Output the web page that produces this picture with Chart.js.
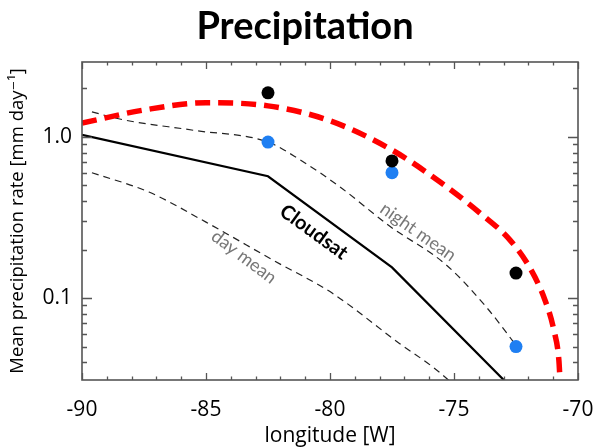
<!DOCTYPE html>
<html lang="en">
<head>
<meta charset="UTF-8">
<title>Precipitation</title>
<script src="https://cdn.jsdelivr.net/npm/chart.js@4"></script>
<style>
  body { margin: 0; background: #fff; }
</style>
</head>
<body>
<canvas id="precipChart" width="596" height="447"></canvas>
<script>
// longitude (deg) / mean precipitation rate (mm/day) for each curve
const fitLon  = [-90, -87.5, -85.0, -82.5, -80.0, -77.5, -75.56, -73.95, -72.74, -71.94, -71.33, -70.97, -70.77, -70.73];
const fitRate = [1.22, 1.47, 1.63, 1.56, 1.26, 0.83, 0.525, 0.337, 0.229, 0.154, 0.097, 0.063, 0.041, 0.032];

const cloudsatLon  = [-90, -82.5, -77.5, -72.5];
const cloudsatRate = [1.03, 0.57, 0.155, 0.026];

const nightLon  = [-89.6, -88.35, -85.5, -82.5, -81.2, -79.6, -77.6, -75.3, -73.7, -72.5];
const nightRate = [1.43, 1.28, 1.10, 0.93, 0.72, 0.49, 0.28, 0.16, 0.088, 0.051];

const dayLon  = [-89.6, -87.3, -85.0, -82.3, -79.9, -77.2, -75.85, -75.0];
const dayRate = [0.60, 0.455, 0.296, 0.172, 0.107, 0.0523, 0.0373, 0.029];

const stationLon   = [-82.5, -77.5, -72.5];
const stationTotal = [1.88, 0.71, 0.143];
const stationNight = [0.93, 0.60, 0.050];

const xTicks = [-90, -85, -80, -75, -70];
const yTickLabels = { 1: '1.0', 0.1: '0.1' };

const FONT = "'Open Sans', 'DejaVu Sans', sans-serif";

function pts(xs, ys) {
  return xs.map((x, i) => ({ x: x, y: ys[i] }));
}

// box frame, inward tick marks, title and curve labels
const decorations = {
  id: 'decorations',
  afterDatasetsDraw(chart) {
    const { ctx, chartArea: a, scales: { x, y } } = chart;
    ctx.save();
    ctx.strokeStyle = '#555';
    ctx.lineWidth = 1.6;
    ctx.strokeRect(a.left, a.top, a.right - a.left, a.bottom - a.top);

    ctx.lineWidth = 1.3;
    ctx.beginPath();
    for (let v = -90; v <= -70; v++) {
      const px = Math.round(x.getPixelForValue(v)) + 0.5;
      const len = v % 5 === 0 ? 7 : 3.5;
      ctx.moveTo(px, a.bottom); ctx.lineTo(px, a.bottom - len);
      ctx.moveTo(px, a.top); ctx.lineTo(px, a.top + len);
    }
    const yVals = [];
    [0.01, 0.1, 1].forEach(d => {
      for (let m = 1; m <= 9; m++) yVals.push({ v: d * m, major: m === 1 });
    });
    yVals.forEach(t => {
      if (t.v < y.min || t.v > y.max) return;
      const py = Math.round(y.getPixelForValue(t.v)) + 0.5;
      const len = t.major ? 10 : 5;
      ctx.moveTo(a.left, py); ctx.lineTo(a.left + len, py);
      ctx.moveTo(a.right, py); ctx.lineTo(a.right - len, py);
    });
    ctx.stroke();
    ctx.restore();
  },
  afterDraw(chart) {
    const { ctx, scales: { x, y } } = chart;
    ctx.save();
    ctx.fillStyle = '#000';
    ctx.textAlign = 'center';
    ctx.textBaseline = 'middle';
    ctx.font = "bold 38px 'Lato', " + FONT;
    ctx.fillText('Precipitation', 305, 27);

    const notes = [
      { text: 'Cloudsat',   lon: -80.65, rate: 0.257, angle: 36, font: "bold 20px 'Lato', " + FONT, color: '#000' },
      { text: 'night mean', lon: -76.45, rate: 0.257, angle: 35, font: "18px 'Lato', " + FONT, color: '#777' },
      { text: 'day mean',   lon: -83.47, rate: 0.18,  angle: 37, font: "18px 'Lato', " + FONT, color: '#777' }
    ];
    notes.forEach(n => {
      ctx.save();
      ctx.translate(x.getPixelForValue(n.lon), y.getPixelForValue(n.rate));
      ctx.rotate(n.angle * Math.PI / 180);
      ctx.font = n.font;
      ctx.fillStyle = n.color;
      ctx.fillText(n.text, 0, 0);
      ctx.restore();
    });
    ctx.restore();
  }
};

new Chart(document.getElementById('precipChart'), {
  type: 'line',
  data: {
    datasets: [
      {
        label: 'fit',
        data: pts(fitLon, fitRate),
        borderColor: '#ff0000',
        borderWidth: 5.5,
        borderDash: [15, 8],
        cubicInterpolationMode: 'monotone',
        pointRadius: 0,
        order: 0
      },
      {
        label: 'total',
        data: pts(stationLon, stationTotal),
        showLine: false,
        pointRadius: 6.5,
        pointBackgroundColor: '#000',
        pointBorderWidth: 0,
        order: 1
      },
      {
        label: 'night',
        data: pts(stationLon, stationNight),
        showLine: false,
        pointRadius: 6.5,
        pointBackgroundColor: '#1f7ff2',
        pointBorderWidth: 0,
        order: 1
      },
      {
        label: 'Cloudsat',
        data: pts(cloudsatLon, cloudsatRate),
        borderColor: '#000',
        borderWidth: 2.2,
        tension: 0,
        pointRadius: 0,
        order: 2
      },
      {
        label: 'night mean',
        data: pts(nightLon, nightRate),
        borderColor: '#222',
        borderWidth: 1.2,
        borderDash: [7, 5],
        cubicInterpolationMode: 'monotone',
        pointRadius: 0,
        order: 3
      },
      {
        label: 'day mean',
        data: pts(dayLon, dayRate),
        borderColor: '#222',
        borderWidth: 1.2,
        borderDash: [7, 5],
        cubicInterpolationMode: 'monotone',
        pointRadius: 0,
        order: 3
      }
    ]
  },
  options: {
    responsive: false,
    animation: false,
    layout: { padding: { top: 62, right: 18, left: 0, bottom: 0 } },
    plugins: {
      legend: { display: false },
      tooltip: { enabled: false },
      title: { display: false }
    },
    scales: {
      x: {
        type: 'linear',
        min: -90,
        max: -70,
        grid: { display: false, drawTicks: false },
        border: { display: false },
        afterBuildTicks(scale) {
          scale.ticks = xTicks.map(v => ({ value: v }));
        },
        afterFit(scale) {
          scale.height = 67;
          scale.paddingLeft = 0;
          scale.paddingRight = 0;
        },
        ticks: {
          padding: 17,
          color: '#000',
          font: { family: FONT, size: 21 },
          callback: v => String(v)
        },
        title: {
          display: true,
          text: 'longitude [W]',
          color: '#000',
          padding: 0,
          font: { family: FONT, size: 21, lineHeight: 1.0 }
        }
      },
      y: {
        type: 'logarithmic',
        min: 0.031,
        max: 2.92,
        grid: { display: false, drawTicks: false },
        border: { display: false },
        afterFit(scale) {
          scale.width = 82;
          scale.paddingTop = 0;
          scale.paddingBottom = 0;
        },
        ticks: {
          autoSkip: false,
          padding: 10,
          color: '#000',
          font: { family: FONT, size: 21 },
          callback(v) {
            for (const k in yTickLabels) {
              if (Math.abs(v - Number(k)) < 1e-9) return yTickLabels[k];
            }
            return '';
          }
        },
        title: {
          display: true,
          text: 'Mean precipitation rate [mm day⁻¹]',
          color: '#000',
          padding: { top: 7, bottom: 0 },
          font: { family: FONT, size: 18.5 }
        }
      }
    }
  },
  plugins: [decorations]
});
</script>
</body>
</html>
